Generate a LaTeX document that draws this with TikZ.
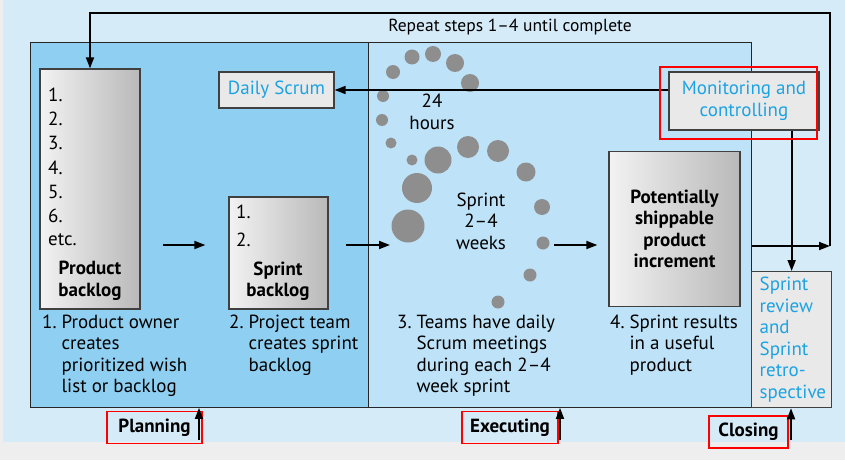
\documentclass[tikz,border=0pt]{standalone}
\usepackage{fontspec}
\setmainfont{PT Sans}
\usetikzlibrary{arrows.meta,positioning}
\definecolor{fondo}{HTML}{D6EBF8}
\definecolor{planaz}{HTML}{8FCFF1}
\definecolor{ejecaz}{HTML}{BEE2F7}
\definecolor{grisclaro}{HTML}{EEEEEE}
\definecolor{cajagris}{HTML}{E9E9E9}
\definecolor{textoaz}{HTML}{1BA3E3}
\definecolor{punto}{HTML}{8E8E8E}
\newcommand{\letra}{\fontsize{19}{21.5}\selectfont}
\newcommand{\paso}[2]{\begin{tabular}[t]{@{}l@{\hspace{5pt}}l@{}}#1 & #2\end{tabular}}

\begin{document}
\begin{tikzpicture}[x=1pt,y=-1pt,
    every node/.style={inner sep=0pt,font=\letra},
    zona/.style={draw=black!85,line width=0.9pt},
    caja/.style={draw=black!75,line width=1.3pt,left color=gray!10,right color=gray!55},
    cajaclara/.style={draw=black!75,line width=1.3pt,fill=cajagris,text=textoaz,align=center},
    flecha/.style={line width=1.8pt,-{Triangle[length=11pt,width=8pt]}},
    marca/.style={draw=red,line width=1.8pt},
    fase/.style={marca,font=\letra\bfseries,minimum height=32},
    negrita/.style={font=\letra\bfseries,align=center}]
  \fill[grisclaro] (0,0) rectangle (845,460);
  \fill[fondo] (3,0) rectangle (845,442);
  \useasboundingbox (0,0) rectangle (845,460);

  % zonas
  \node[zona,fill=planaz,anchor=north west,minimum width=338,minimum height=365] (plan) at (30,42) {};
  \node[zona,fill=ejecaz,anchor=north west,minimum width=383,minimum height=365] (ejec) at (368,42) {};
  \node[cajaclara,anchor=north west,minimum width=80,minimum height=136,text width=64,align=left] (cierre) at (751,271) {Sprint\\review\\and\\Sprint\\retro-\\spective};

  % puntos del sprint
  \foreach \x/\y/\r in {412/57/7.5,433/54/8,393/72/7,455/63/9,470/83/9,383/96/6,382/120/6,
      391/143/5.5,412/160/5.5,438/160/13.5,468/147/11,498/151/11,526/172/9.5,417/188/15,
      542/207/8,408/226/16.5,543/243/6.5,530/275/6.5,498/302/6.5}
    \fill[punto] (\x,\y) circle (\r);

  % cajas
  \node[caja,minimum width=100,minimum height=240] (pb) at (90,189) {};
  \node[caja,minimum width=99,minimum height=112] (sb) at (278.5,253) {};
  \node[caja,negrita,minimum width=131,minimum height=155,text width=124] (inc) at (674.5,229) {Potentially\\shippable\\product\\increment};
  \node[cajaclara,minimum width=115,minimum height=36] (ds) at (276.5,90) {Daily Scrum};
  \node[cajaclara,minimum width=150,minimum height=58] (mon) at (744,101) {Monitoring and\\controlling};

  \foreach \k [count=\i from 0] in {1.,2.,3.,4.,5.,6.,etc.}
    \node[anchor=west] at (48,95+24.2*\i) {\k};
  \node[anchor=west] (sb1) at (236,212) {1.};
  \node[anchor=west] (sb2) at (236,240) {2.};
  \node[negrita] (pbtit) at (90,281) {Product\\backlog};
  \node[negrita] (sbtit) at (278,281) {Sprint\\backlog};

  % pasos
  \node[anchor=north west] (p1) at (42,313) {\paso{1.}{Product owner\\&creates\\&prioritized wish\\&list or backlog}};
  \node[anchor=north west] (p2) at (229,313) {\paso{2.}{Project team\\&creates sprint\\&backlog}};
  \node[anchor=north west] (p3) at (397,313) {\paso{3.}{Teams have daily\\&Scrum meetings\\&during each 2--4\\&week sprint}};
  \node[anchor=north west] (p4) at (610,313) {\paso{4.}{Sprint results\\&in a useful\\&product}};

  \node[font=\fontsize{17.5}{21.5}\selectfont] (rep) at (510,27) {Repeat steps 1--4 until complete};
  \node[align=center] (hrs) at (432,112) {24\\hours};
  \node[align=center] (spr) at (481,221) {Sprint\\2--4\\weeks};

  % flechas
  \coordinate (esq) at (830,246);
  \coordinate (esqsup) at (830,13);
  \coordinate (cloudin) at (390,245);
  \coordinate (cloudout) at (554,245);
  \draw[flecha] (ejec.east |- esq) -- (esq);
  \draw[flecha] (esq) -- (esqsup) -| (pb.north);
  \draw[flecha] (mon.west |- ds.east) -- (ds.east);
  \draw[flecha] (mon.south -| cierre.north) -- (cierre.north);
  \draw[flecha,shorten <=22pt,shorten >=23pt] (pb.east |- cloudin) -- (sb.west |- cloudin);
  \draw[flecha,shorten <=17pt] (sb.east |- cloudin) -- (cloudin);
  \draw[flecha,shorten >=11pt] (cloudout) -- (inc.west |- cloudout);

  % fases
  \node[fase,minimum width=95] (fplan) at (154.5,427.5) {Planning};
  \node[fase,minimum width=96] (fejec) at (510,427.5) {Executing};
  \node[fase,minimum width=79] (fcierre) at (748.5,432) {Closing};
  \coordinate (bplan) at (199,440);
  \coordinate (bejec) at (560,440);
  \coordinate (bcierre) at (791,440);
  \draw[flecha] (bplan) -- (bplan |- plan.south);
  \draw[flecha] (bejec) -- (bejec |- ejec.south);
  \draw[flecha] (bcierre) -- (bcierre |- cierre.south);
  \draw[marca] (660,67) rectangle (817,139);
\end{tikzpicture}
\end{document}
